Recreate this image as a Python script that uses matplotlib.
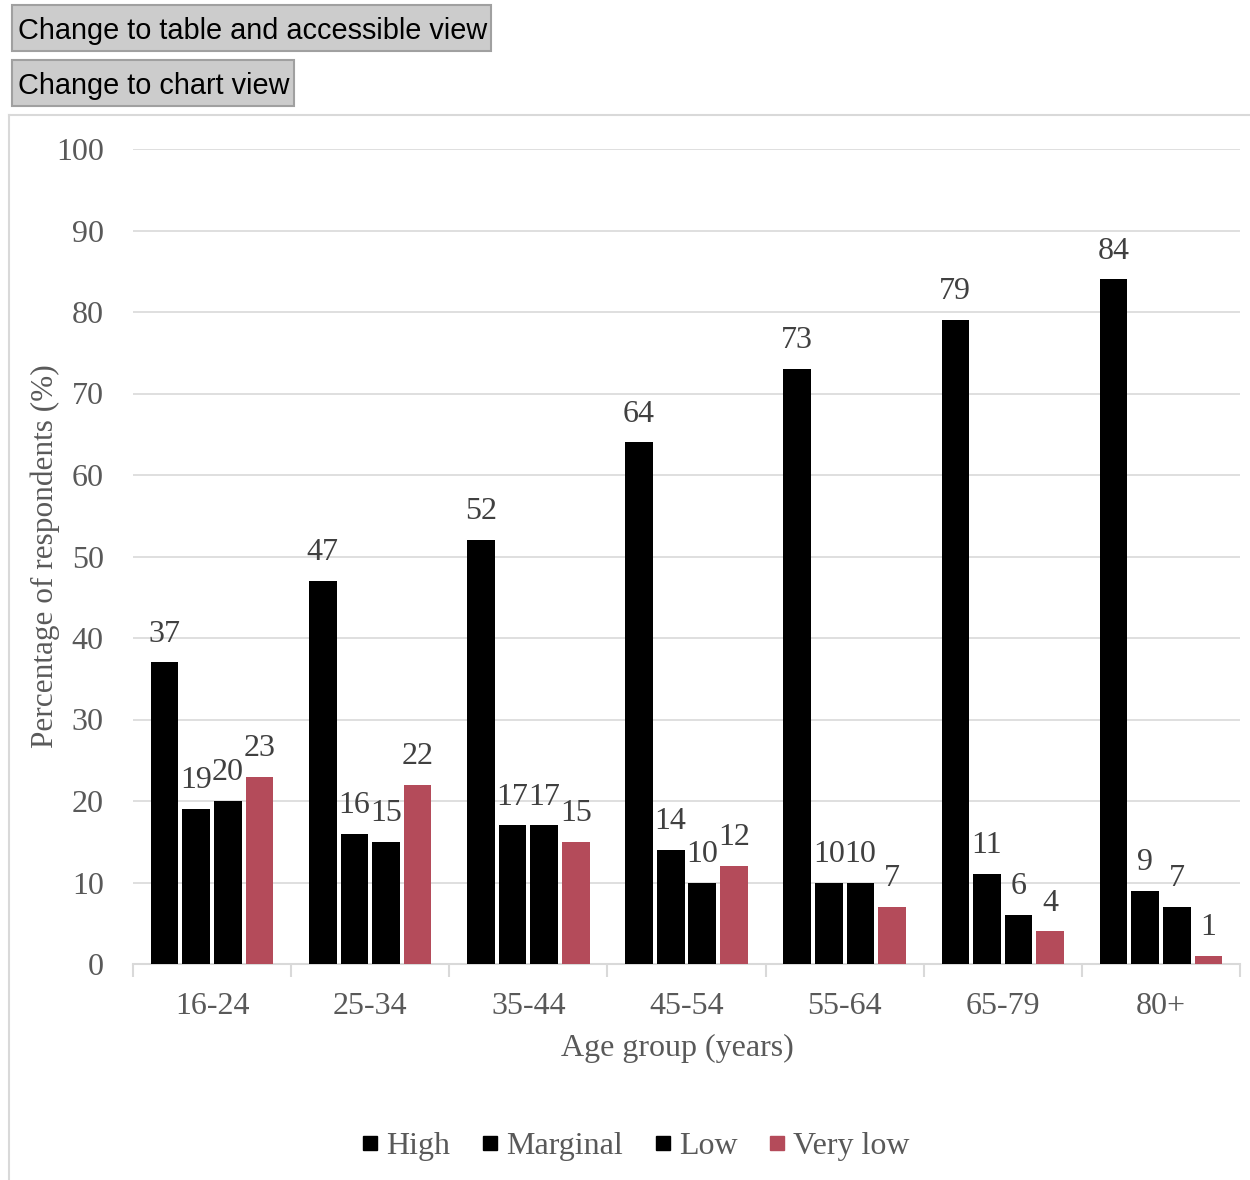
import numpy as np
import matplotlib.pyplot as plt
from matplotlib.patches import Rectangle
from matplotlib.lines import Line2D

# data
age_groups = ["16-24", "25-34", "35-44", "45-54", "55-64", "65-79", "80+"]
series_names = ["High", "Marginal", "Low", "Very low"]
high = [37, 47, 52, 64, 73, 79, 84]
marginal = [19, 16, 17, 14, 10, 11, 9]
low = [20, 15, 17, 10, 10, 6, 7]
very_low = [23, 22, 15, 12, 7, 4, 1]
colors = ["#000000", "#000000", "#000000", "#b44b5a"]

W, H = 1250, 1180
fig = plt.figure(figsize=(W / 100, H / 100), dpi=100)
serif = ["Liberation Serif", "DejaVu Serif"]
sans = ["Liberation Sans", "DejaVu Sans"]
txt_col = "#595959"
fs = 23


def fx(px):
    return px / W


def fy(py):
    return 1 - py / H


# buttons at top
for (x0, y0, x1, y1, label) in [(12, 5, 491, 51, "Change to table and accessible view"),
                                (12, 60, 294, 106, "Change to chart view")]:
    fig.patches.append(Rectangle((fx(x0), fy(y1)), fx(x1 - x0), (y1 - y0) / H,
                                 transform=fig.transFigure, facecolor="#cccccc",
                                 edgecolor="#a0a0a0", linewidth=1.5))
    fig.text(fx(x0 + 6), fy((y0 + y1) / 2 + 3), label, family=sans, fontsize=20.8,
             color="#000000", va="center", ha="left")

# chart frame (left and top border)
fig.add_artist(Line2D([fx(9), fx(9)], [fy(115), 0], transform=fig.transFigure,
                      color="#d9d9d9", lw=1.5))
fig.add_artist(Line2D([fx(9), 1], [fy(115), fy(115)], transform=fig.transFigure,
                      color="#d9d9d9", lw=1.5))

ax = fig.add_axes([fx(133), fy(964), fx(1240 - 133), (964 - 149) / H])

x = np.arange(len(age_groups))
step = 0.2
width = 0.175
all_series = [high, marginal, low, very_low]
for i, (vals, col) in enumerate(zip(all_series, colors)):
    pos = x + (i - 1.5) * step
    bars = ax.bar(pos, vals, width=width, color=col, zorder=3)
    for b, v in zip(bars, vals):
        ax.annotate(str(v), (b.get_x() + b.get_width() / 2, b.get_height()),
                    xytext=(0, 10), textcoords="offset points", ha="center",
                    va="bottom", fontsize=fs, family=serif, color="#404040")

ax.set_ylim(0, 100)
ax.set_xlim(-0.5, len(age_groups) - 0.5)
ax.set_yticks(range(0, 101, 10))
ax.set_xticks(x)
ax.set_xticklabels(age_groups)
ax.set_xticks(np.arange(-0.5, len(age_groups), 1), minor=True)
ax.tick_params(axis="x", which="major", length=0, pad=20)
ax.tick_params(axis="x", which="minor", length=9, color="#d9d9d9", width=1.5)
ax.tick_params(axis="y", length=0, pad=21)
for lab in ax.get_xticklabels() + ax.get_yticklabels():
    lab.set_family(serif)
    lab.set_fontsize(fs)
    lab.set_color(txt_col)

ax.grid(axis="y", color="#d9d9d9", lw=1.2, zorder=0)
for s in ["top", "right", "left"]:
    ax.spines[s].set_visible(False)
ax.spines["bottom"].set_color("#d9d9d9")
ax.spines["bottom"].set_linewidth(1.5)

fig.text(fx(45), fy(556), "Percentage of respondents (%)", rotation=90,
         family=serif, fontsize=22.5, color=txt_col, ha="center", va="center")
fig.text(fx(677), fy(1048), "Age group (years)", family=serif, fontsize=fs,
         color=txt_col, ha="center", va="center")

handles = [Line2D([], [], marker="s", linestyle="none", markersize=10, color=c)
           for c in colors]
leg = fig.legend(handles, series_names, loc="center", ncol=4,
                 bbox_to_anchor=(fx(633), fy(1146)), frameon=False,
                 handletextpad=0.05, columnspacing=0.8, handlelength=0.9,
                 prop={"family": serif, "size": fs})
for t in leg.get_texts():
    t.set_color(txt_col)

fig.savefig("out.png", dpi=100)
